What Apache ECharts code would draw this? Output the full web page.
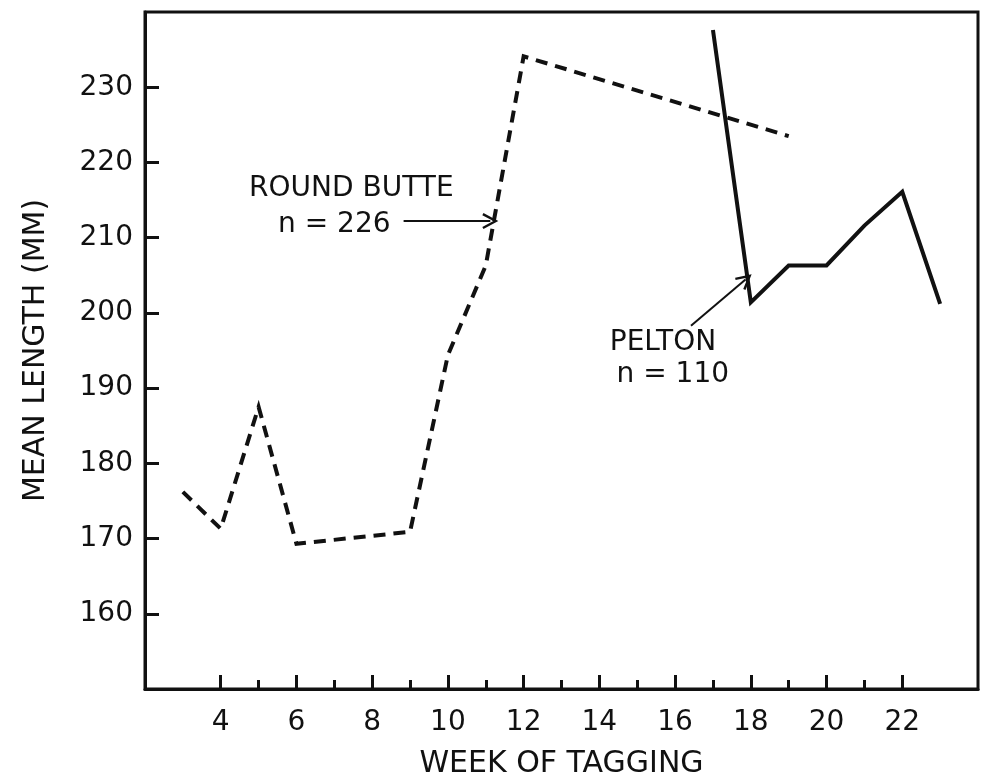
<!DOCTYPE html>
<html>
<head>
<meta charset="utf-8">
<script src="https://cdn.jsdelivr.net/npm/echarts@6/dist/echarts.min.js"></script>
<style>
  html, body { margin: 0; padding: 0; background: #fff; }
  #chart { width: 992px; height: 778px; }
</style>
</head>
<body>
<div id="chart"></div>
<script>
// Mean length of tagged fish by week of tagging
const roundButteWeeks  = [3, 4, 5, 6, 9, 10, 11, 12, 19];
const roundButteLength = [176.2, 171.3, 187.5, 169.3, 170.9, 194.4, 206.3, 234.1, 223.5];

const peltonWeeks  = [17, 18, 19, 20, 21, 22, 23];
const peltonLength = [237.6, 201.4, 206.3, 206.3, 211.6, 216.1, 201.2];

const weekMajorTicks = [4, 6, 8, 10, 12, 14, 16, 18, 20, 22];
const weekMinorTicks = [5, 7, 9, 11, 13, 15, 17, 19, 21];
const lengthTicks    = [160, 170, 180, 190, 200, 210, 220, 230];

const labelTexts = ['ROUND BUTTE', 'n = 226', 'PELTON', 'n = 110'];

// where each label and pointer arrow sits, in week / mm coordinates
const labelAnchors = [[7.45, 216.5], [7.0, 211.7], [15.68, 196.0], [15.94, 191.8]];
const arrowAnchors = [
  [[8.83, 212.2], [11.12, 212.2]],
  [[16.42, 198.3], [17.86, 204.45]]
];

const ink = '#111';
const font = '"DejaVu Sans", sans-serif';
const chevron = 'path://M5,0 L10,9 L8.7,9.7 L5,3 L1.3,9.7 L0,9 Z';

const toPairs = (xs, ys) => xs.map((x, i) => [x, ys[i]]);

const chart = echarts.init(document.getElementById('chart'), null, { renderer: 'canvas' });

chart.setOption({
  backgroundColor: '#fff',
  animation: false,
  grid: {
    left: 145, right: 14, top: 12, bottom: 89,
    outerBoundsMode: 'none', containLabel: false,
    show: true, borderColor: ink, borderWidth: 3, backgroundColor: 'transparent'
  },
  xAxis: [
    {
      type: 'value', min: 2, max: 24, interval: 2,
      name: 'WEEK OF TAGGING', nameLocation: 'middle', nameGap: 60,
      nameTextStyle: { fontFamily: font, fontSize: 30, color: ink },
      axisLine: { show: true, lineStyle: { color: ink, width: 3 } },
      axisTick: { inside: true, length: 14, customValues: weekMajorTicks, lineStyle: { color: ink, width: 3 } },
      axisLabel: { customValues: weekMajorTicks, margin: 20, fontFamily: font, fontSize: 28, color: ink },
      splitLine: { show: false }
    },
    {
      type: 'value', min: 2, max: 24, position: 'bottom', gridIndex: 0,
      axisLine: { show: false },
      axisTick: { inside: true, length: 9, customValues: weekMinorTicks, lineStyle: { color: ink, width: 3 } },
      axisLabel: { show: false },
      splitLine: { show: false }
    }
  ],
  yAxis: {
    type: 'value', min: 150, max: 240, interval: 10,
    name: 'MEAN LENGTH (MM)', nameLocation: 'middle', nameGap: 94,
    nameTextStyle: { fontFamily: font, fontSize: 30, color: ink },
    axisLine: { show: true, lineStyle: { color: ink, width: 3 } },
    axisTick: { inside: true, length: 14, customValues: lengthTicks, lineStyle: { color: ink, width: 3 } },
    axisLabel: { customValues: lengthTicks, margin: 12, fontFamily: font, fontSize: 28, color: ink },
    splitLine: { show: false }
  },
  series: [
    {
      name: 'Round Butte', type: 'line', xAxisIndex: 0,
      data: toPairs(roundButteWeeks, roundButteLength),
      showSymbol: false, symbol: 'none',
      lineStyle: { color: ink, width: 4, type: [12, 8], cap: 'butt', join: 'miter' }
    },
    {
      name: 'Pelton', type: 'line', xAxisIndex: 0,
      data: toPairs(peltonWeeks, peltonLength),
      showSymbol: false, symbol: 'none',
      lineStyle: { color: ink, width: 4, type: 'solid', join: 'miter' }
    },
    {
      name: 'labels', type: 'scatter', xAxisIndex: 0, silent: true,
      symbolSize: 1, itemStyle: { color: 'transparent', opacity: 1 },
      data: labelAnchors.map((p, i) => ({ value: p, name: labelTexts[i] })),
      label: {
        show: true, position: 'inside', formatter: '{b}',
        fontFamily: font, fontSize: 28, color: ink, opacity: 1
      },
      markLine: {
        silent: true, animation: false,
        symbol: ['none', chevron], symbolSize: [16, 16],
        lineStyle: { color: ink, width: 2, type: 'solid', opacity: 1 },
        label: { show: false },
        data: arrowAnchors.map(a => [{ coord: a[0] }, { coord: a[1] }])
      }
    }
  ]
});
</script>
</body>
</html>
